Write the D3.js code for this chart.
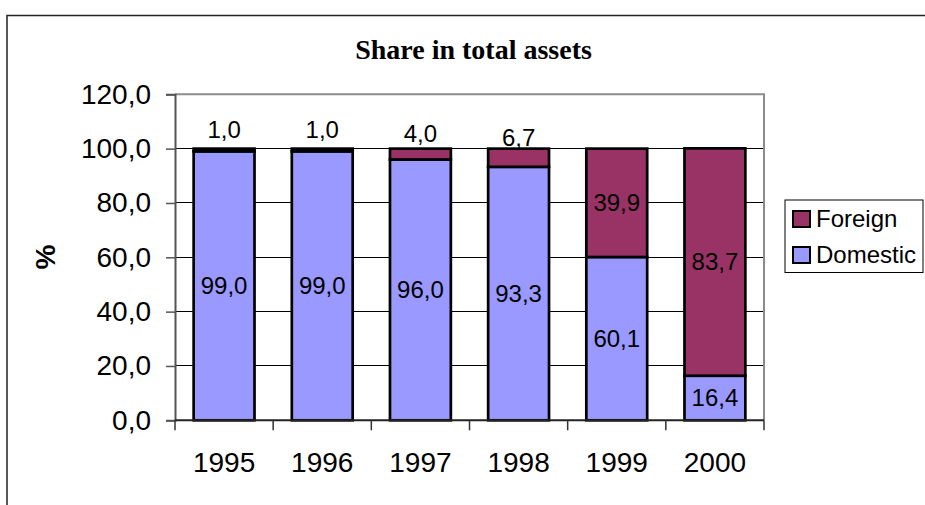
<!DOCTYPE html>
<html>
<head>
<meta charset="utf-8">
<script src="https://cdn.jsdelivr.net/npm/d3@7"></script>
<style>
  body { margin: 0; background: #fff; }
  svg { display: block; }
</style>
</head>
<body>
<div id="chart"></div>
<script>
var years = ["1995", "1996", "1997", "1998", "1999", "2000"];
var domestic = [99.0, 99.0, 96.0, 93.3, 60.1, 16.4];
var foreign = [1.0, 1.0, 4.0, 6.7, 39.9, 83.7];
var seriesNames = ["Foreign", "Domestic"];
var seriesColors = { Domestic: "#9999ff", Foreign: "#993366" };
var yTicks = [0, 20, 40, 60, 80, 100, 120];
var title = "Share in total assets";

var width = 925, height = 505;
var margins = { top: 94.3, right: 161, bottom: 84.7, left: 175 };
var innerW = width - margins.left - margins.right;
var innerH = height - margins.top - margins.bottom;

var svg = d3.select("#chart").append("svg")
    .attr("width", width)
    .attr("height", height);

// outer chart border
svg.append("rect")
    .attr("x", 7).attr("y", 15.5)
    .attr("width", 940).attr("height", 520)
    .attr("fill", "none")
    .attr("stroke", "#222")
    .attr("stroke-width", 1.5);

svg.append("text")
    .attr("x", 473.5).attr("y", 59)
    .attr("text-anchor", "middle")
    .style("font-family", "'Liberation Serif', 'Times New Roman', serif")
    .style("font-weight", "bold")
    .style("font-size", "28px")
    .text(title);

var g = svg.append("g")
    .attr("transform", "translate(" + margins.left + "," + margins.top + ")");

var x = d3.scaleBand()
    .domain(years)
    .range([0, innerW])
    .paddingInner(0.38)
    .paddingOuter(0.19);

var y = d3.scaleLinear()
    .domain([0, 120])
    .range([innerH, 0]);

// grid lines
g.append("g").selectAll("line")
    .data(yTicks.filter(function (d) { return d > 0 && d < 120; }))
    .enter().append("line")
    .attr("x1", 0).attr("x2", innerW)
    .attr("y1", function (d) { return y(d); })
    .attr("y2", function (d) { return y(d); })
    .attr("stroke", "#000")
    .attr("stroke-width", 1)
    .style("shape-rendering", "crispEdges");

// plot area border (top + right)
g.append("path")
    .attr("d", "M0," + y(120) + "H" + innerW + "V" + innerH)
    .attr("fill", "none")
    .attr("stroke", "#8c8c8c")
    .attr("stroke-width", 2);

var rows = years.map(function (yr, i) {
    return { year: yr, Domestic: domestic[i], Foreign: foreign[i] };
});
var stacked = d3.stack().keys(["Domestic", "Foreign"])(rows);

var fontSans = "'Liberation Sans', Arial, sans-serif";

stacked.forEach(function (layer) {
    g.append("g").selectAll("rect")
        .data(layer)
        .enter().append("rect")
        .attr("x", function (d) { return x(d.data.year); })
        .attr("y", function (d) { return y(d[1]); })
        .attr("width", x.bandwidth())
        .attr("height", function (d) { return y(d[0]) - y(d[1]); })
        .attr("fill", seriesColors[layer.key])
        .attr("stroke", "#000")
        .attr("stroke-width", 2.7);
});

// data labels
stacked.forEach(function (layer) {
    g.append("g").selectAll("text")
        .data(layer)
        .enter().append("text")
        .attr("x", function (d) { return x(d.data.year) + x.bandwidth() / 2; })
        .attr("y", function (d) {
            var v = d[1] - d[0];
            var cy = y((d[0] + d[1]) / 2);
            // small segments get their label lifted above the bar
            return v < 10 ? cy - 20 : cy;
        })
        .attr("dy", "0.35em")
        .attr("text-anchor", "middle")
        .style("font-family", fontSans)
        .style("font-size", "24px")
        .text(function (d) { return d3.format(".1f")(d[1] - d[0]).replace(".", ","); });
});

// y axis
var yAxis = d3.axisLeft(y)
    .tickValues(yTicks)
    .tickSize(9)
    .tickPadding(15)
    .tickFormat(function (d) { return d3.format(".1f")(d).replace(".", ","); });

var yAxisG = g.append("g").call(yAxis);
yAxisG.select(".domain").attr("stroke", "#555").attr("stroke-width", 2);
yAxisG.selectAll(".tick line").attr("stroke", "#555").attr("stroke-width", 1.5);
yAxisG.selectAll("text")
    .style("font-family", fontSans)
    .style("font-size", "28px")
    .attr("fill", "#000");

// x axis: ticks at category boundaries
var step = x.step();
var bounds = d3.range(years.length + 1).map(function (i) { return i * step; });
var xAxisG = g.append("g").attr("transform", "translate(0," + innerH + ")");
xAxisG.append("line")
    .attr("x1", 0).attr("x2", innerW)
    .attr("stroke", "#222").attr("stroke-width", 2);
xAxisG.selectAll("line.tick")
    .data(bounds)
    .enter().append("line")
    .attr("class", "tick")
    .attr("x1", function (d) { return d; })
    .attr("x2", function (d) { return d; })
    .attr("y1", 0).attr("y2", 10)
    .attr("stroke", "#333").attr("stroke-width", 1.5);
xAxisG.selectAll("text")
    .data(years)
    .enter().append("text")
    .attr("x", function (d) { return x(d) + x.bandwidth() / 2; })
    .attr("y", 51.5)
    .attr("text-anchor", "middle")
    .style("font-family", fontSans)
    .style("font-size", "28px")
    .text(function (d) { return d; });

// y axis title
svg.append("text")
    .attr("transform", "translate(45,257) rotate(-90)")
    .attr("dy", "0.35em")
    .attr("text-anchor", "middle")
    .style("font-family", fontSans)
    .style("font-weight", "bold")
    .style("font-size", "28px")
    .text("%");

// legend
var legend = svg.append("g").attr("transform", "translate(785,200)");
legend.append("rect")
    .attr("width", 138).attr("height", 72.5)
    .attr("fill", "#fff")
    .attr("stroke", "#000")
    .attr("stroke-width", 1);
var items = legend.selectAll("g.item")
    .data(seriesNames)
    .enter().append("g")
    .attr("class", "item")
    .attr("transform", function (d, i) { return "translate(8," + (11 + i * 36) + ")"; });
items.append("rect")
    .attr("width", 17).attr("height", 16)
    .attr("fill", function (d) { return seriesColors[d]; })
    .attr("stroke", "#000")
    .attr("stroke-width", 2);
items.append("text")
    .attr("x", 23).attr("y", 16)
    .style("font-family", fontSans)
    .style("font-size", "24px")
    .text(function (d) { return d; });
</script>
</body>
</html>
